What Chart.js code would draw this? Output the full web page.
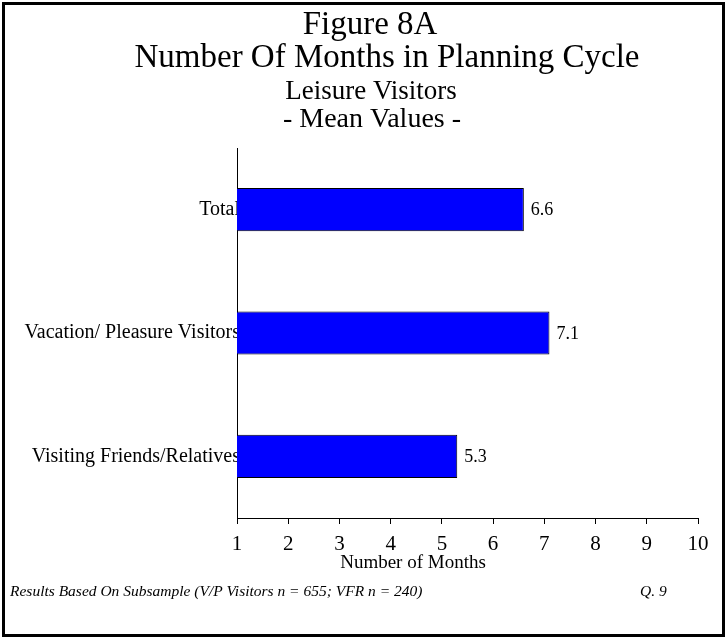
<!DOCTYPE html>
<html>
<head>
<meta charset="utf-8">
<script src="https://cdn.jsdelivr.net/npm/chart.js@4"></script>
<style>
  html, body { margin: 0; padding: 0; background: #fff; }
  #wrap { width: 727px; height: 639px; }
</style>
</head>
<body>
<div id="wrap"><canvas id="planChart" width="727" height="639"></canvas></div>
<script>
const categories = ['Total', 'Vacation/ Pleasure Visitors', 'Visiting Friends/Relatives'];
const meanMonths = [6.6, 7.1, 5.3];
const xTicks = [1, 2, 3, 4, 5, 6, 7, 8, 9, 10];
const headings = ['Figure 8A', 'Number Of Months in Planning Cycle', 'Leisure Visitors', '- Mean Values -'];
const footnote = 'Results Based On Subsample (V/P Visitors n = 655; VFR n = 240)';
const questionRef = 'Q. 9';
const axisTitle = 'Number of Months';

const serif = "'Liberation Serif', 'Times New Roman', serif";

// headings, value labels, footnotes and the frame
const extras = {
    id: 'extras',
    afterDraw(chart) {
        const ctx = chart.ctx;
        ctx.save();
        ctx.fillStyle = '#000';
        ctx.textBaseline = 'alphabetic';
        ctx.textAlign = 'center';

        ctx.font = '33px ' + serif;
        ctx.fillText(headings[0], 370, 34);
        ctx.fillText(headings[1], 387, 67);
        ctx.font = '27px ' + serif;
        ctx.fillText(headings[2], 371, 99);
        ctx.font = '28px ' + serif;
        ctx.fillText(headings[3], 372, 127);

        ctx.font = '19px ' + serif;
        ctx.fillText(axisTitle, 413, 568);

        // values at the end of each bar
        const meta = chart.getDatasetMeta(0);
        ctx.textAlign = 'left';
        ctx.textBaseline = 'middle';
        ctx.font = '18px ' + serif;
        meta.data.forEach((bar, i) => {
            ctx.fillText(meanMonths[i].toFixed(1), bar.x + 7, bar.y + 1);
        });

        ctx.textBaseline = 'alphabetic';
        ctx.font = 'italic 15.5px ' + serif;
        ctx.fillText(footnote, 10, 596);
        ctx.fillText(questionRef, 640, 596);

        ctx.strokeStyle = '#000';
        ctx.lineWidth = 3;
        ctx.strokeRect(3.5, 3.5, 720, 632);
        ctx.restore();
    }
};

new Chart(document.getElementById('planChart'), {
    type: 'bar',
    data: {
        labels: categories,
        datasets: [{
            data: meanMonths,
            backgroundColor: '#0000ff',
            borderColor: '#000',
            borderWidth: 1,
            borderSkipped: false,
            categoryPercentage: 1,
            barPercentage: 0.35
        }]
    },
    options: {
        indexAxis: 'y',
        responsive: false,
        animation: false,
        layout: { padding: { top: 148, right: 29, left: 0, bottom: 0 } },
        plugins: {
            legend: { display: false },
            tooltip: { enabled: false },
            title: { display: false }
        },
        scales: {
            x: {
                type: 'linear',
                min: xTicks[0],
                max: xTicks[xTicks.length - 1],
                afterBuildTicks: (scale) => { scale.ticks = xTicks.map(v => ({ value: v })); },
                afterFit: (scale) => { scale.height = 121; },
                grid: { drawOnChartArea: false, drawTicks: true, tickLength: 6, color: '#000', lineWidth: 1 },
                border: { display: true, color: '#000', width: 1 },
                ticks: { color: '#000', padding: 8, font: { family: serif, size: 21 }, maxRotation: 0 }
            },
            y: {
                afterFit: (scale) => { scale.width = 237; },
                grid: { display: false, drawTicks: false },
                border: { display: true, color: '#000', width: 1 },
                ticks: { color: '#000', padding: -3, font: { family: serif, size: 20 } }
            }
        }
    },
    plugins: [extras]
});
</script>
</body>
</html>
